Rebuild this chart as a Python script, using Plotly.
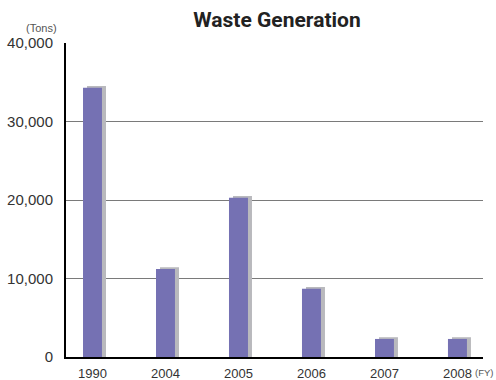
import plotly.graph_objects as go

years = ["1990", "2004", "2005", "2006", "2007", "2008"]
waste_tons = [34300, 11200, 20300, 8700, 2300, 2300]

purple = "#7571B3"
shadow = "#B9B9BD"
depth_tons = 220  # 3D shadow lift

fig = go.Figure()
fig.add_trace(go.Bar(
    x=years, y=[v + depth_tons for v in waste_tons],
    marker=dict(color=shadow, line=dict(width=0)),
    width=0.26, offset=-0.075, hoverinfo="skip", showlegend=False,
))
fig.add_trace(go.Bar(
    x=years, y=waste_tons,
    marker=dict(color=purple, line=dict(width=0)),
    width=0.26, offset=-0.13, showlegend=False, name="Waste",
))

fig.update_layout(
    width=496, height=380,
    margin=dict(l=66, r=13, t=43, b=23, autoexpand=False),
    barmode="overlay",
    plot_bgcolor="white", paper_bgcolor="white",
    font=dict(family="Liberation Sans, Arial, sans-serif", color="#333333"),
    title=dict(text="<b>Waste Generation</b>", x=0.506, xref="paper",
               y=1 - 19.5 / 380, yref="container", xanchor="center", yanchor="middle",
               font=dict(family="Roboto, Liberation Sans, sans-serif", size=21, color="#222222")),
    xaxis=dict(
        type="category", range=[-0.363, 5.35], automargin=False,
        showline=True, linecolor="black", linewidth=2,
        showgrid=False, ticks="", ticklabelstandoff=3,
        tickfont=dict(size=13, color="#333333"),
        fixedrange=True,
    ),
    yaxis=dict(
        range=[0, 40000], dtick=10000, tickformat=",d", automargin=False,
        showline=True, linecolor="black", linewidth=2,
        showgrid=True, gridcolor="#7a7a7a", gridwidth=1,
        zeroline=False, ticks="", ticklabelstandoff=8,
        tickfont=dict(size=15, color="#333333"),
        fixedrange=True,
    ),
    annotations=[
        dict(text="(Tons)", xref="paper", yref="paper", x=-7 / 417, y=1 + 14.5 / 314,
             xanchor="right", yanchor="middle", showarrow=False,
             font=dict(size=11, color="#555555")),
        dict(text="(FY)", xref="paper", yref="paper", x=(473 - 66) / 417, y=-15 / 314,
             xanchor="left", yanchor="middle", showarrow=False,
             font=dict(size=9.5, color="#555555")),
    ],
)

fig.write_html("out.html")
